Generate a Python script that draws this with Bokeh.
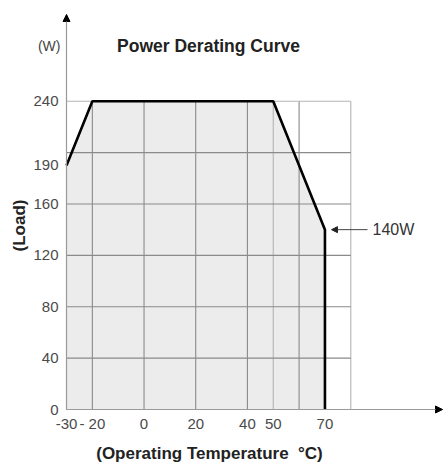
from math import pi
from bokeh.plotting import figure
from bokeh.models import Range1d, FixedTicker, Label, Arrow, NormalHead
from bokeh.embed import file_html
from bokeh.resources import INLINE

# ---- data ----
temp = [-30, -20, 50, 70, 70]          # deg C
load = [190, 240, 240, 140, 0]         # W
x_ticks = [-30, -20, 0, 20, 40, 50, 70]
x_tick_labels = ["-30", "- 20", "0", "20", "40", "50", "70"]
y_ticks = [0, 40, 80, 120, 160, 190, 240]
grid_x = [-20, 0, 20, 40, 50, 60, 80]
grid_y = [0, 40, 80, 120, 160, 200, 240]
note_load = 140
note_text = "140W"
title_text = "Power Derating Curve"
x_title = "(Operating Temperature \u00a0°C)"
y_title = "(Load)"
unit_text = "(W)"

FONT = "Liberation Sans"
W, H = 446, 462
X0, Y0 = 66, 409      # pixel of (-30, 0)
PXX = 2.5845          # px per deg
PXY = 1.2846          # px per W

def dx(px):
    return (px - X0) / PXX - 30

def dy(py):
    return (Y0 - py) / PXY

p = figure(width=W, height=H, output_backend="svg", toolbar_location=None,
           x_range=Range1d(dx(0), dx(W)), y_range=Range1d(dy(H), dy(0)),
           min_border=0)
p.outline_line_color = None
p.xgrid.visible = False
p.ygrid.visible = False
p.background_fill_color = "white"

# fill under curve
p.patch(temp + [temp[0]], load + [0], fill_color="#ececec", line_color=None)

# grid lines
xmin, xmax = temp[0], grid_x[-1]
ymax = grid_y[-1]
for gx in grid_x:
    col = "#b4b4b4" if gx in (50, 80) else "#8a8a8a"
    p.segment(x0=gx, y0=0, x1=gx, y1=ymax, line_color=col, line_width=1.1)
for gy in grid_y:
    col = "#b4b4b4" if gy == 240 else "#8a8a8a"
    p.segment(x0=xmin, y0=gy, x1=xmax, y1=gy, line_color=col, line_width=1.1)

# curve
p.line(temp, load, line_color="black", line_width=2.6)

# axes at fixed data locations
ytop = dy(14)
xright = dx(442)
for ax in (p.xaxis[0], p.yaxis[0]):
    ax.axis_line_color = "#9a9a9a"
    ax.axis_line_width = 1.2
    ax.major_tick_in = 0
    ax.major_tick_out = 0
    ax.minor_tick_in = 0
    ax.minor_tick_out = 0
    ax.major_label_text_font = FONT
    ax.major_label_text_font_size = "15px"
    ax.major_label_text_color = "#4a4a4a"

p.xaxis[0].fixed_location = 0
p.xaxis[0].bounds = (xmin, xright)
p.xaxis[0].ticker = FixedTicker(ticks=x_ticks)
p.xaxis[0].major_label_overrides = {t: l for t, l in zip(x_ticks, x_tick_labels)}
p.xaxis[0].major_label_standoff = 5
p.yaxis[0].fixed_location = xmin
p.yaxis[0].bounds = (0, ytop)
p.yaxis[0].ticker = FixedTicker(ticks=y_ticks)
p.yaxis[0].major_label_standoff = 8

# axis arrow heads
p.add_layout(Arrow(end=NormalHead(size=7, fill_color="black", line_color="black"),
                   x_start=xmin, y_start=ytop - 8, x_end=xmin, y_end=ytop,
                   line_color="#9a9a9a", line_width=1))
p.add_layout(Arrow(end=NormalHead(size=7, fill_color="black", line_color="black"),
                   x_start=xright - 4, y_start=0, x_end=xright, y_end=0,
                   line_color="#9a9a9a", line_width=1))

# annotation arrow 140W
p.add_layout(Arrow(end=NormalHead(size=6, fill_color="#222222", line_color="#222222"),
                   x_start=dx(367), y_start=note_load, x_end=dx(331), y_end=note_load,
                   line_color="#444444", line_width=1))
p.add_layout(Label(x=dx(372), y=note_load, text=note_text, text_font=FONT,
                   text_font_size="16px", text_color="#333333",
                   text_baseline="middle", text_align="left"))

# texts
p.add_layout(Label(x=dx(208), y=dy(45), text=title_text, text_font=FONT,
                   text_font_size="17.5px", text_font_style="bold", text_color="#222222",
                   text_align="center", text_baseline="middle"))
p.add_layout(Label(x=dx(60), y=dy(45), text=unit_text, text_font=FONT,
                   text_font_size="14px", text_color="#444444",
                   text_align="right", text_baseline="middle"))
p.add_layout(Label(x=dx(19), y=dy(225), text=y_title, text_font=FONT, angle=pi / 2,
                   text_font_size="17px", text_font_style="bold", text_color="#222222",
                   text_align="center", text_baseline="middle"))
p.add_layout(Label(x=dx(209), y=dy(453), text=x_title, text_font=FONT,
                   text_font_size="17px", text_font_style="bold", text_color="#222222",
                   text_align="center", text_baseline="middle"))

open("out.html", "w").write(file_html(p, INLINE))
